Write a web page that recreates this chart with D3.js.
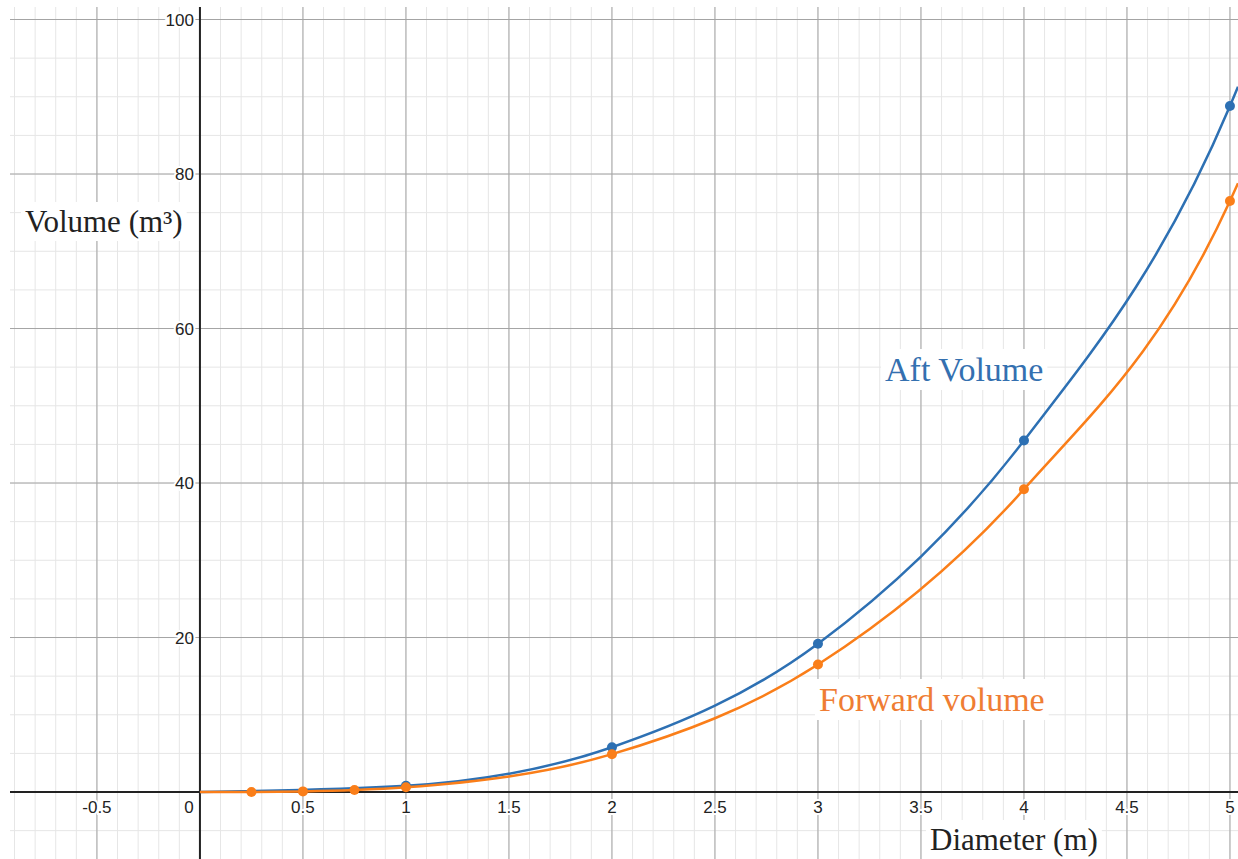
<!DOCTYPE html>
<html>
<meta charset="utf-8" />
<script src="https://d3js.org/d3.v7.min.js"></script>
<style>
  body { margin: 0; background: #fff; }
  svg { display: block; }
</style>
<body>
<div id="chart"></div>
<script>
// values
var aftDiameter = [1, 2, 3, 4, 5];
var aftVolume = [0.8, 5.8, 19.2, 45.5, 88.8];
var fwdDiameter = [0.25, 0.5, 0.75, 1, 2, 3, 4, 5];
var fwdVolume = [0.01, 0.08, 0.26, 0.61, 4.9, 16.5, 39.2, 76.5];
// curve ends: origin and where each curve leaves the plot on the right
var aftCurveEnds = [[0, 0], [5.039, 91.3]];
var fwdCurveEnds = [[0, 0], [5.039, 78.8]];
var xTicks = [-0.5, 0, 0.5, 1, 1.5, 2, 2.5, 3, 3.5, 4, 4.5, 5];
var yTicks = [20, 40, 60, 80, 100];

var W = 1238, H = 859;
var blue = "#2d70b3", orange = "#fa7e19";

var svg = d3.select("#chart").append("svg")
  .attr("width", W).attr("height", H);

var x = d3.scaleLinear().domain([-0.922, 5.039]).range([10, 1238]);
var y = d3.scaleLinear().domain([-8.67, 101.62]).range([859, 7]);

// minor grid
var minorX = d3.range(-9, 51).map(function(i) { return i / 10; });
var minorY = d3.range(-1, 21).map(function(i) { return i * 5; });
var grid = svg.append("g");
grid.selectAll(".mx").data(minorX).enter().append("line")
  .attr("x1", function(d) { return x(d); }).attr("x2", function(d) { return x(d); })
  .attr("y1", y.range()[1]).attr("y2", y.range()[0])
  .attr("stroke", "#e6e6e6").attr("stroke-width", 1);
grid.selectAll(".my").data(minorY).enter().append("line")
  .attr("y1", function(d) { return y(d); }).attr("y2", function(d) { return y(d); })
  .attr("x1", x.range()[0]).attr("x2", x.range()[1])
  .attr("stroke", "#e6e6e6").attr("stroke-width", 1);
// major grid
grid.selectAll(".Mx").data(d3.range(-1, 11).map(function(i) { return i / 2; })).enter().append("line")
  .attr("x1", function(d) { return x(d); }).attr("x2", function(d) { return x(d); })
  .attr("y1", y.range()[1]).attr("y2", y.range()[0])
  .attr("stroke", "#a4a4a4").attr("stroke-width", 1);
grid.selectAll(".My").data([0, 20, 40, 60, 80, 100]).enter().append("line")
  .attr("y1", function(d) { return y(d); }).attr("y2", function(d) { return y(d); })
  .attr("x1", x.range()[0]).attr("x2", x.range()[1])
  .attr("stroke", "#a4a4a4").attr("stroke-width", 1);

// axes
svg.append("line").attr("x1", x.range()[0]).attr("x2", x.range()[1])
  .attr("y1", y(0)).attr("y2", y(0)).attr("stroke", "#222").attr("stroke-width", 2);
svg.append("line").attr("x1", x(0)).attr("x2", x(0))
  .attr("y1", y.range()[1]).attr("y2", y.range()[0]).attr("stroke", "#222").attr("stroke-width", 2);

// tick labels
var tl = svg.append("g").attr("font-family", "Liberation Sans, Arial, sans-serif")
  .attr("font-size", 17).attr("fill", "#222");
tl.selectAll(".xt").data(xTicks).enter().append("text")
  .attr("x", function(d) { return d === 0 ? x(0) - 11 : x(d); })
  .attr("y", y(0) + 21)
  .attr("text-anchor", "middle")
  .attr("stroke", "#fff").attr("stroke-width", 4).attr("paint-order", "stroke")
  .text(function(d) { return d; });
tl.selectAll(".yt").data(yTicks).enter().append("text")
  .attr("x", x(0) - 6)
  .attr("y", function(d) { return y(d) + 6; })
  .attr("text-anchor", "end")
  .attr("stroke", "#fff").attr("stroke-width", 4).attr("paint-order", "stroke")
  .text(function(d) { return d; });

// curves
var line = d3.line()
  .x(function(d) { return x(d[0]); })
  .y(function(d) { return y(d[1]); })
  .curve(d3.curveMonotoneX);

function curveData(ds, vs, ends) {
  var pts = ds.map(function(d, i) { return [d, vs[i]]; });
  return [ends[0]].concat(pts, [ends[1]]);
}

svg.append("path").datum(curveData(aftDiameter, aftVolume, aftCurveEnds))
  .attr("fill", "none").attr("stroke", blue).attr("stroke-width", 2.5)
  .attr("d", line);
svg.append("g").selectAll("circle").data(aftDiameter).enter().append("circle")
  .attr("cx", function(d) { return x(d); })
  .attr("cy", function(d, i) { return y(aftVolume[i]); })
  .attr("r", 5).attr("fill", blue);

svg.append("path").datum(curveData(fwdDiameter, fwdVolume, fwdCurveEnds))
  .attr("fill", "none").attr("stroke", orange).attr("stroke-width", 2.5)
  .attr("d", line);
svg.append("g").selectAll("circle").data(fwdDiameter).enter().append("circle")
  .attr("cx", function(d) { return x(d); })
  .attr("cy", function(d, i) { return y(fwdVolume[i]); })
  .attr("r", 5).attr("fill", orange);

// labels with white boxes
function label(txt, px, py, size, color) {
  var g = svg.append("g");
  var t = g.append("text").attr("x", px).attr("y", py)
    .attr("font-family", "Liberation Serif, Times New Roman, serif")
    .attr("font-size", size).attr("fill", color).text(txt);
  var b = t.node().getBBox();
  g.insert("rect", "text").attr("x", b.x - 4).attr("y", b.y - 2)
    .attr("width", b.width + 8).attr("height", b.height + 4).attr("fill", "#fff");
}
label("Volume (m³)", 25, 232, 31, "#222");
label("Aft Volume", 885, 381, 34, "#3470b0");
label("Forward volume", 819, 711, 34, "#ef7d33");
label("Diameter (m)", 930, 850, 31, "#222");
</script>
</body>
</html>
